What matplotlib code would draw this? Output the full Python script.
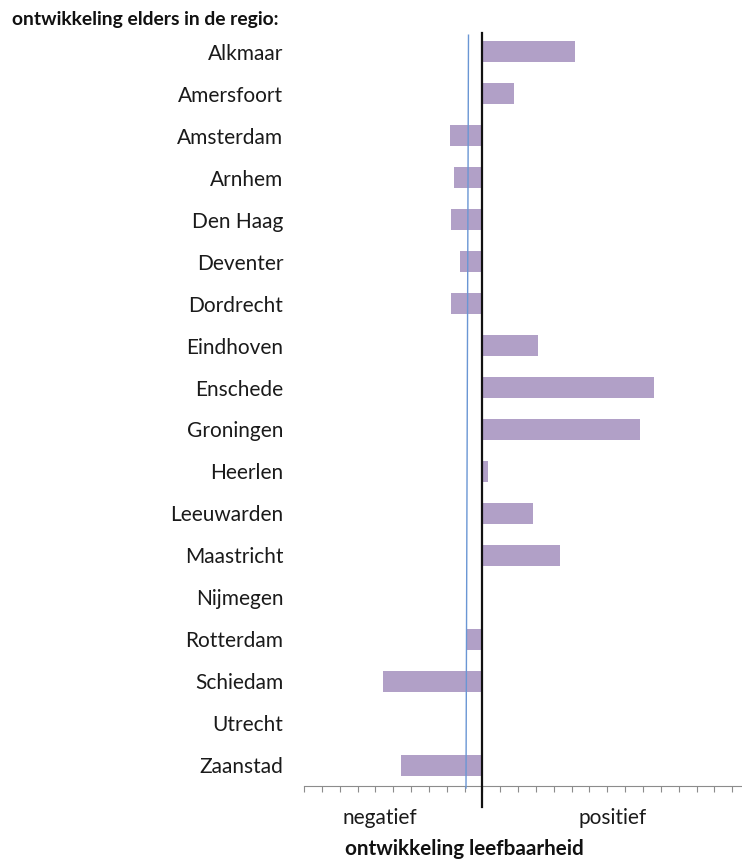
import numpy as np
import matplotlib
matplotlib.use('Agg')
from matplotlib import pyplot as plt

# data (one tick = one unit)
steden = ['Alkmaar', 'Amersfoort', 'Amsterdam', 'Arnhem', 'Den Haag', 'Deventer',
          'Dordrecht', 'Eindhoven', 'Enschede', 'Groningen', 'Heerlen', 'Leeuwarden',
          'Maastricht', 'Nijmegen', 'Rotterdam', 'Schiedam', 'Utrecht', 'Zaanstad']
ontwikkeling = [5.21, 1.76, -1.83, -1.61, -1.76, -1.24,
                -1.76, 3.09, 9.63, 8.82, 0.30, 2.81,
                4.35, 0.0, -0.93, -5.58, 0.0, -4.55]
# thin blue reference line (top, bottom)
regio_lijn_x = [-0.78, -0.92]
regio_lijn_y = [-0.4, 17.55]

plt.rcParams['font.family'] = ['Lato', 'DejaVu Sans']

fig = plt.figure(figsize=(7.42, 8.6), dpi=100)
ax = fig.add_axes([304 / 742, 1 - 786 / 860, 1 - 304 / 742, 755 / 860])

y = np.arange(len(steden))
ax.barh(y, ontwikkeling, height=0.5, color='#b1a0c7', zorder=2)

ax.set_ylim(len(steden) - 0.5, -0.5)
ax.set_xlim(-10, 14.55)

ax.set_yticks(y)
ax.set_yticklabels(steden, fontsize=15, color='#1a1a1a')
ax.tick_params(axis='y', left=False, pad=11.5)

ax.set_xticks(np.arange(-10, 15))
ax.set_xticklabels([])
ax.tick_params(axis='x', direction='out', length=4, width=0.8, color='#8c8c8c')

for s in ['left', 'right', 'top']:
    ax.spines[s].set_visible(False)
ax.spines['bottom'].set_color('#8c8c8c')
ax.spines['bottom'].set_linewidth(0.8)

# zero line, reaching below the axis
ax.plot([0, 0], [-0.45, 18.0], color='#111111', lw=1.6, clip_on=False, zorder=4)
ax.plot(regio_lijn_x, regio_lijn_y, color='#6a96d4', lw=1.0, clip_on=False, zorder=3)

fig.text(12 / 742, 1 - 20 / 860, 'ontwikkeling elders in de regio:', fontsize=13.9,
         fontweight='bold', va='center', ha='left', color='#111111')
fig.text(380 / 742, 1 - 818 / 860, 'negatief', fontsize=15, va='center', ha='center',
         color='#1a1a1a')
fig.text(613 / 742, 1 - 818 / 860, 'positief', fontsize=15, va='center', ha='center',
         color='#1a1a1a')
fig.text(345 / 742, 1 - 849 / 860, 'ontwikkeling leefbaarheid', fontsize=14.9,
         fontweight='bold', va='center', ha='left', color='#111111')

fig.savefig('out.png', dpi=100)
